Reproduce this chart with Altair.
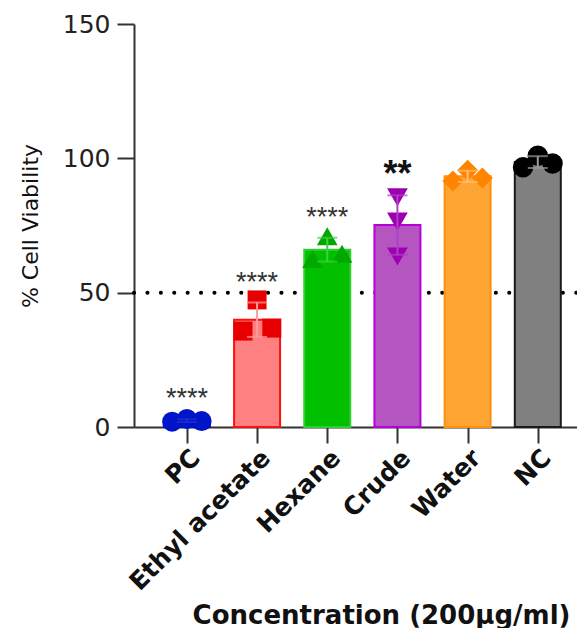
import altair as alt
import pandas as pd
import numpy as np

# ---- data ----
groups = ["PC", "Ethyl acetate", "Hexane", "Crude", "Water", "NC"]
pc_vals = [2.0, 3.0, 2.2]
ethyl_vals = [35.7, 47.3, 36.8]
hexane_vals = [62.5, 71.0, 64.5]
crude_vals = [85.5, 76.5, 63.5]
water_vals = [91.6, 95.6, 92.7]
nc_vals = [96.7, 101.0, 98.1]
stars = ["****", "****", "****", "**", "", ""]
threshold = [50]
y_ticks = [0, 50, 100, 150]

# ---- style ----
bar_fill = ["#3a4fe0", "#FF8080", "#00C000", "#B455C0", "#FFA533", "#808080"]
bar_stroke = ["#0010C8", "#FF1010", "#33CC33", "#B800D8", "#FF9010", "#1a1a1a"]
pt_color = ["#0014C8", "#E80000", "#00A800", "#9C00B0", "#FF8400", "#000000"]
err_color = ["#2030D0", "#FF9A9A", "#40D040", "#B040C8", "#FFC080", "#9a9a9a"]
pt_shape = ["circle", "square", "triangle-up", "triangle-down", "diamond", "circle"]
pt_size = [400, 360, 430, 430, 440, 420]
jitter = [[-0.21, 0, 0.21], [-0.2, 0, 0.21], [-0.21, 0, 0.21], [0, 0, 0], [-0.21, 0, 0.21], [-0.21, 0, 0.21]]
big_star = [False, False, False, True, False, False]

all_vals = [pc_vals, ethyl_vals, hexane_vals, crude_vals, water_vals, nc_vals]

rows = []
for i, g in enumerate(groups):
    for j, v in enumerate(all_vals[i]):
        rows.append({"idx": i + jitter[i][j], "value": v,
                     "pc": pt_color[i], "shape": pt_shape[i], "ps": pt_size[i]})
pts = pd.DataFrame(rows)

summ = pd.DataFrame({
    "idx": list(range(len(groups))),
    "mean": [float(np.mean(v)) for v in all_vals],
    "sd": [float(np.std(v, ddof=1)) for v in all_vals],
    "fill": bar_fill, "stroke": bar_stroke, "ec": err_color,
    "stars": stars, "big": big_star,
})
summ["lo"] = summ["mean"] - summ["sd"]
summ["hi"] = summ["mean"] + summ["sd"]

W, H = 443, 403
STEP = 71.8
xs = alt.Scale(domain=[-49 / STEP, (W - 49) / STEP], nice=False, zero=False)
ys = alt.Scale(domain=[0, 150], nice=False)

label_expr = "[" + ",".join("'" + g + "'" for g in groups) + "][datum.value]"

x_axis = alt.Axis(
    values=list(range(len(groups))), labelExpr=label_expr,
    title="Concentration (200µg/ml)", labelAngle=-45, labelAlign="right", labelBaseline="top",
    labelFont="DejaVu Sans", labelFontWeight="bold", labelFontSize=25, labelColor="#111111",
    labelPadding=2, labelLimit=400, domain=True, domainWidth=2, domainColor="#333333",
    tickSize=16, tickWidth=2, tickColor="#333333",
    titleFont="DejaVu Sans", titleFontWeight="bold", titleFontSize=26, titleColor="#111111",
    titleX=247, titleY=196, titleAlign="center", titleBaseline="alphabetic", grid=False,
    labelFlush=False, labelOverlap=False,
)
y_axis = alt.Axis(
    values=y_ticks, title="% Cell Viability", labelFont="DejaVu Sans", labelFontSize=25,
    labelColor="#222222", labelPadding=7, tickSize=17, tickWidth=2, tickColor="#333333",
    domainWidth=2, domainColor="#333333", titleFont="DejaVu Sans", titleFontSize=22,
    titleFontWeight="normal", titleColor="#111111", titlePadding=20, grid=False,
)

X = alt.X("idx:Q", scale=xs, axis=x_axis)

def Y(field):
    return alt.Y(field, scale=ys, axis=y_axis)

dotted = alt.Chart(pd.DataFrame({"t": threshold})).mark_rule(
    color="#000000", strokeWidth=4, strokeDash=[0.1, 13.3], strokeCap="round"
).encode(y=Y("t:Q"), x=alt.value(0), x2=alt.value(W))

bars = alt.Chart(summ).mark_bar(strokeWidth=2, width=46).encode(
    x=X, y=Y("mean:Q"),
    fill=alt.Fill("fill:N", scale=None),
    stroke=alt.Stroke("stroke:N", scale=None),
)

points = alt.Chart(pts).mark_point(filled=True, opacity=1).encode(
    x=X, y=Y("value:Q"),
    color=alt.Color("pc:N", scale=None),
    shape=alt.Shape("shape:N", scale=None),
    size=alt.Size("ps:Q", scale=None),
)

err_rule = alt.Chart(summ).mark_rule(strokeWidth=2).encode(
    x=X, y=Y("lo:Q"), y2="hi:Q", color=alt.Color("ec:N", scale=None))
err_hi = alt.Chart(summ).mark_tick(thickness=2, size=20, orient="horizontal").encode(
    x=X, y=Y("hi:Q"), color=alt.Color("ec:N", scale=None))
err_lo = alt.Chart(summ).mark_tick(thickness=2, size=20, orient="horizontal").encode(
    x=X, y=Y("lo:Q"), color=alt.Color("ec:N", scale=None))

text_small = alt.Chart(summ).transform_filter("datum.stars != '' && !datum.big").mark_text(
    font="Liberation Sans", fontSize=27, baseline="alphabetic", dy=-12, color="#333333"
).encode(x=X, y=Y("hi:Q"), text="stars:N")

text_big = alt.Chart(summ).transform_filter("datum.stars != '' && datum.big").mark_text(
    font="Liberation Sans", fontSize=36, fontWeight="bold", baseline="alphabetic", dy=-9,
    color="#111111"
).encode(x=X, y=Y("hi:Q"), text="stars:N")

chart = alt.layer(dotted, bars, points, err_rule, err_hi, err_lo, text_small, text_big).properties(
    width=W, height=H,
    padding={"left": 126, "top": 16, "right": 0, "bottom": 201},
    autosize=alt.AutoSizeParams(type="none"),
).configure_view(stroke=None)

chart.save("out.html", embed_options={"renderer": "svg", "actions": False})
